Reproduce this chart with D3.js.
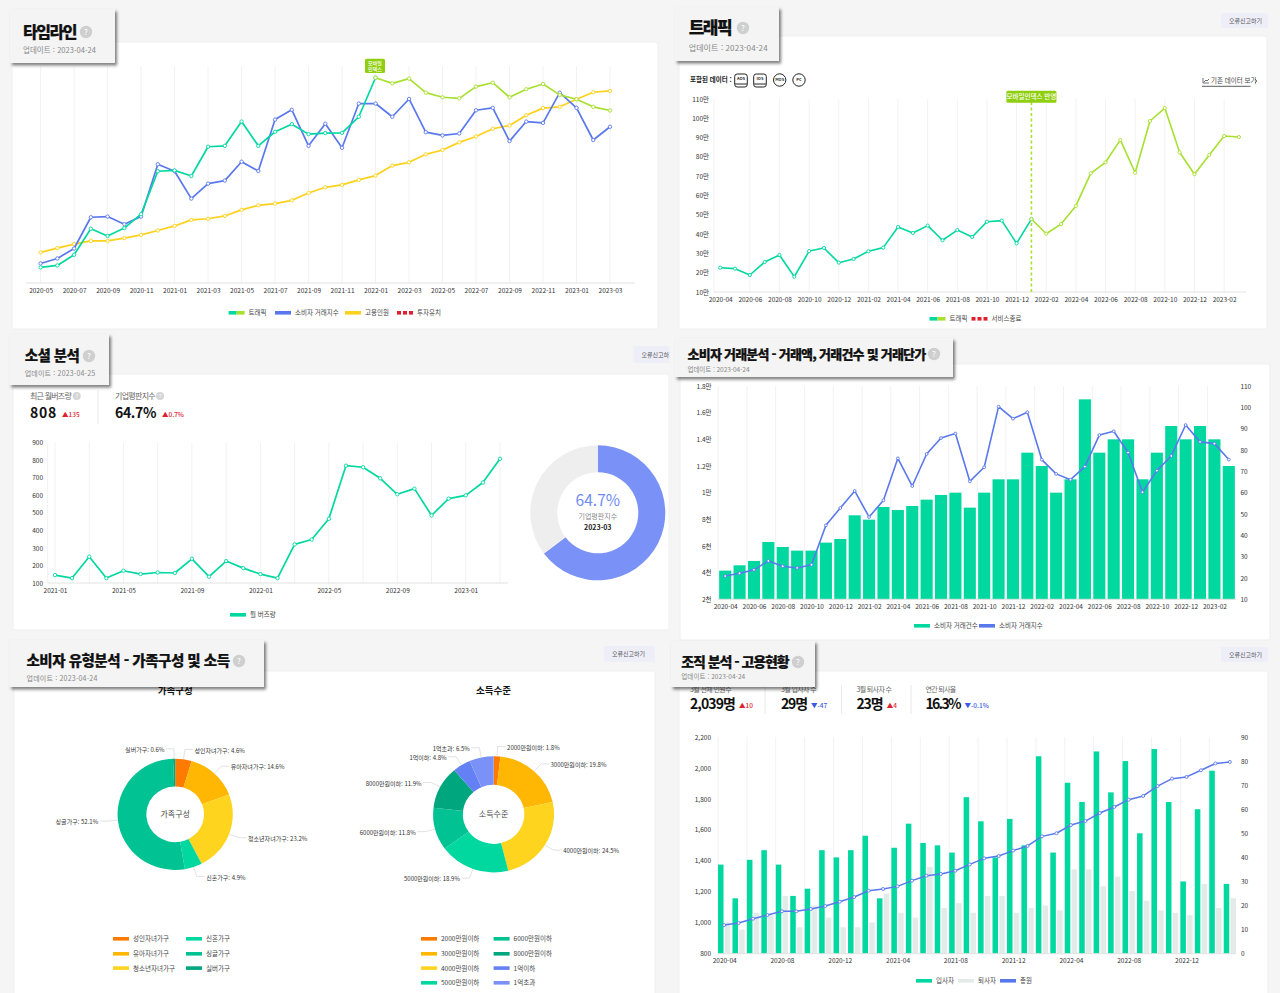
<!DOCTYPE html>
<html lang="ko">
<head>
    <meta charset="UTF-8">
    <title>기업 분석 대시보드</title>
    <script src="https://d3js.org/d3.v7.min.js"></script>
    <style>
        body { margin: 0; background: #f5f5f5; }
        svg { display: block; font-family: "Noto Sans CJK KR", "Noto Sans", sans-serif; fill: #333; }
        .tick text { font-size: 6.5px; font-family: "Noto Sans CJK KR", sans-serif; fill: #333; }
        .grid { stroke: #f2f2f2; stroke-width: 1; }
        .base { stroke: #e2e2e2; stroke-width: 1; }
        .leg { font-size: 6.5px; fill: #444; }
    </style>
</head>
<body>
    <div id="chart"></div>

    <script>
        // Categories
        const months = ["2020-04", "2020-05", "2020-06", "2020-07", "2020-08", "2020-09", "2020-10", "2020-11", "2020-12",
            "2021-01", "2021-02", "2021-03", "2021-04", "2021-05", "2021-06", "2021-07", "2021-08", "2021-09", "2021-10", "2021-11", "2021-12",
            "2022-01", "2022-02", "2022-03", "2022-04", "2022-05", "2022-06", "2022-07", "2022-08", "2022-09", "2022-10", "2022-11", "2022-12",
            "2023-01", "2023-02", "2023-03"];
        const timelineMonths = months.slice(1);
        const socialMonths = months.slice(9);
        const mobileStart = "2022-01";

        // 타임라인 (index, no axis shown)
        const timelineTraffic = [7.2, 8.1, 13.0, 25.0, 21.7, 25.3, 31.7, 51.5, 51.9, 49.3, 62.8, 63.2, 74.4, 63.2, 69.7, 73.2, 68.6, 69.1, 69.2, 76.6, 94.6, 92.0, 94.2, 87.7, 85.6, 85.1, 90.5, 92.3, 85.6, 89.3, 91.7, 86.7, 84.7, 81.2, 79.5];
        const timelineConsumer = [9.0, 11.3, 15.9, 30.3, 30.6, 27.1, 30.6, 54.7, 51.5, 38.9, 45.8, 47.2, 55.9, 51.6, 75.3, 79.8, 63.2, 73.4, 62.3, 82.7, 82.7, 76.6, 84.8, 69.5, 68.0, 68.9, 79.6, 80.7, 65.4, 74.4, 73.8, 87.7, 80.7, 65.9, 72.0];
        const timelineStaff = [14.1, 16.1, 17.9, 19.4, 19.4, 20.7, 22.2, 24.2, 26.3, 29.1, 29.6, 30.9, 33.7, 35.8, 36.6, 38.1, 41.5, 44.1, 45.2, 47.5, 49.5, 54.1, 55.6, 59.3, 61.3, 64.8, 67.5, 71.1, 72.6, 77.3, 80.6, 81.2, 84.7, 87.9, 88.5];

        // 트래픽 (만)
        const trafficValues = [22.6, 22.1, 18.8, 25.5, 29.2, 17.9, 31.2, 32.8, 25.2, 27.1, 31.1, 33.0, 43.7, 40.6, 44.4, 36.8, 42.1, 38.5, 46.4, 47.0, 35.2, 47.8, 40.2, 45.2, 54.6, 71.5, 77.2, 88.8, 71.8, 98.6, 105.3, 82.4, 71.0, 81.0, 90.8, 90.3];
        const trafficTicks = [10, 20, 30, 40, 50, 60, 70, 80, 90, 100, 110];

        // 소셜 분석
        const buzzValues = [145, 128, 250, 128, 170, 151, 160, 157, 238, 136, 225, 185, 151, 128, 320, 348, 466, 769, 760, 697, 606, 638, 485, 581, 600, 673, 808];
        const buzzTicks = [100, 200, 300, 400, 500, 600, 700, 800, 900];
        const reputation = [64.7, 35.3];

        // 소비자 거래분석
        const dealCount = [4150, 4550, 4875, 6300, 5925, 5650, 5650, 6250, 6525, 8300, 7975, 8925, 8700, 9000, 9475, 9825, 10000, 8875, 10000, 11000, 11000, 13000, 12000, 10000, 11000, 17000, 13000, 14000, 14000, 11000, 13000, 15000, 14000, 15000, 14000, 12000];
        const dealIndex = [20.9, 22.2, 23.8, 28.0, 25.5, 24.7, 26.2, 44.7, 52.8, 60.8, 48.6, 56.4, 76.1, 63.1, 78.1, 85.6, 87.7, 65.3, 71.9, 100.3, 94.7, 97.7, 75.5, 68.8, 66.1, 72.2, 87.0, 88.8, 78.8, 60.2, 70.3, 77.2, 91.7, 83.8, 83.0, 75.5];
        const dealLeftTicks = [2000, 4000, 6000, 8000, 10000, 12000, 14000, 16000, 18000];
        const dealLeftLabels = ["2천", "4천", "6천", "8천", "1만", "1.2만", "1.4만", "1.6만", "1.8만"];
        const dealRightTicks = [10, 20, 30, 40, 50, 60, 70, 80, 90, 100, 110];

        // 소비자 유형분석
        const familyNames = ["성인자녀가구", "유아자녀가구", "청소년자녀가구", "신혼가구", "싱글가구", "실버가구"];
        const familyShares = [4.6, 14.6, 23.2, 4.9, 52.1, 0.6];
        const familyColors = ["#ff7a00", "#ffb703", "#ffd41f", "#00d8a0", "#00c292", "#00a67e"];
        const incomeNames = ["2000만원이하", "3000만원이하", "4000만원이하", "5000만원이하", "6000만원이하", "8000만원이하", "1억이하", "1억초과"];
        const incomeShares = [1.8, 19.8, 24.5, 18.9, 11.8, 11.9, 4.8, 6.5];
        const incomeColors = ["#ff7a00", "#ffb703", "#ffd41f", "#00d8a0", "#00c292", "#00a67e", "#6480f5", "#7a92f7"];

        // 조직 분석
        const hires = [37, 23, 39, 43, 37, 24, 27, 43, 40, 43, 49, 23, 44, 54, 46, 45, 42, 65, 55, 40, 56, 45, 82, 42, 71, 63, 84, 67, 80, 50, 85, 63, 30, 60, 76, 29];
        const leavers = [13, 10, 17, 16, 24, 11, 20, 15, 11, 11, 13, 25, 17, 15, 36, 19, 21, 17, 24, 24, 17, 19, 20, 18, 35, 35, 28, 32, 26, 22, 18, 17, 16, 29, 19, 23];
        const headcount = [985, 998, 1026, 1050, 1074, 1074, 1089, 1108, 1136, 1166, 1207, 1218, 1235, 1272, 1304, 1315, 1336, 1377, 1416, 1431, 1466, 1496, 1558, 1578, 1631, 1657, 1709, 1748, 1795, 1819, 1883, 1931, 1942, 1985, 2029, 2039];
        const staffLeftTicks = [800, 1000, 1200, 1400, 1600, 1800, 2000, 2200];
        const staffRightTicks = [0, 10, 20, 30, 40, 50, 60, 70, 80, 90];

        // Colors
        const TEAL = "#00d8a0", LIME = "#a8e030", BLUE = "#5a78ee", YELLOW = "#ffd11a", RED = "#e0202f", TAG = "#8fcf10";

        const svg = d3.select("#chart").append("svg").attr("width", 1280).attr("height", 993);
        svg.append("defs").append("filter").attr("id", "shadow")
            .attr("x", "-5%").attr("y", "-10%").attr("width", "112%").attr("height", "130%")
            .append("feDropShadow").attr("dx", 2).attr("dy", 2.5).attr("stdDeviation", 1.5)
            .attr("flood-color", "#000").attr("flood-opacity", 0.5);

        // ---- shared helpers ----
        function card(x0, y0, x1, y1) {
            svg.append("rect").attr("x", x0).attr("y", y0).attr("width", x1 - x0).attr("height", y1 - y0)
                .attr("rx", 2).attr("fill", "#fff").attr("stroke", "#efefef");
        }

        function reportButton(x0, y0, x1, y1) {
            svg.append("rect").attr("x", x0).attr("y", y0).attr("width", x1 - x0).attr("height", y1 - y0)
                .attr("rx", 2).attr("fill", "#eeeef9");
            svg.append("text").attr("x", x0 + 8).attr("y", (y0 + y1) / 2).attr("dy", "0.35em")
                .attr("font-size", 6).attr("fill", "#555").text("오류신고하기");
        }

        // squeezes a string to a target width by tightening its letter spacing
        function fitSpacing(sel, width) {
            const chars = sel.text().length;
            const natural = sel.node().getComputedTextLength();
            sel.attr("letter-spacing", (width - natural) / chars);
        }

        function titleBox(b) {
            svg.append("rect").attr("x", b.x0).attr("y", b.y0).attr("width", b.x1 - b.x0).attr("height", b.y1 - b.y0)
                .attr("fill", "#f4f4f4").attr("filter", "url(#shadow)");
            svg.append("text").attr("x", b.tx).attr("y", b.ty).attr("dy", "0.36em")
                .attr("font-size", b.size).attr("font-weight", 900).attr("fill", "#111")
                .attr("stroke", "#111").attr("stroke-width", 0.2)
                .text(b.title).call(fitSpacing, b.tw);
            svg.append("circle").attr("cx", b.hx).attr("cy", b.ty).attr("r", 6.2).attr("fill", "#cfcfcf");
            svg.append("text").attr("x", b.hx).attr("y", b.ty).attr("dy", "0.36em").attr("text-anchor", "middle")
                .attr("font-size", 8).attr("fill", "#fff").text("?");
            svg.append("text").attr("x", b.tx).attr("y", b.uy).attr("dy", "0.35em")
                .attr("font-size", b.usize).attr("fill", "#888")
                .text(b.update).call(fitSpacing, b.uw);
        }

        function legendItem(x, y, label, kind) {
            const g = svg.append("g");
            if (kind === "split") {
                g.append("rect").attr("x", x).attr("y", y - 2).attr("width", 8).attr("height", 3.6).attr("fill", TEAL);
                g.append("rect").attr("x", x + 8).attr("y", y - 2).attr("width", 8).attr("height", 3.6).attr("fill", LIME);
            } else if (kind === "dash") {
                [0, 6, 12].forEach(d => g.append("rect").attr("x", x + d).attr("y", y - 2).attr("width", 4).attr("height", 3.6).attr("fill", RED));
            } else {
                g.append("rect").attr("x", x).attr("y", y - 2).attr("width", 16).attr("height", 3.6).attr("fill", kind);
            }
            g.append("text").attr("class", "leg").attr("x", x + 20).attr("y", y).attr("dy", "0.35em").text(label);
        }

        function xAxis(scale, y, values, x0, x1) {
            const g = svg.append("g").attr("transform", `translate(0,${y})`)
                .call(d3.axisBottom(scale).tickValues(values).tickSize(0).tickPadding(5));
            g.select(".domain").remove();
            svg.append("line").attr("class", "base").attr("x1", x0).attr("x2", x1).attr("y1", y).attr("y2", y);
        }

        function yAxis(scale, x, ticks, side, fmt) {
            const axis = (side === "left" ? d3.axisLeft(scale) : d3.axisRight(scale))
                .tickValues(ticks).tickSize(0).tickPadding(0);
            if (fmt) axis.tickFormat(fmt);
            const g = svg.append("g").attr("transform", `translate(${x},0)`).call(axis);
            g.select(".domain").remove();
        }

        function gridLines(xs, y0, y1) {
            svg.append("g").selectAll("line").data(xs).join("line").attr("class", "grid")
                .attr("x1", d => d).attr("x2", d => d).attr("y1", y0).attr("y2", y1);
        }

        function lineSeries(cats, vals, x, y, color, width, r) {
            const pts = cats.map((c, i) => [x(c), y(vals[i])]);
            svg.append("path").attr("d", d3.line()(pts)).attr("fill", "none")
                .attr("stroke", color).attr("stroke-width", width).attr("stroke-linejoin", "round");
            svg.append("g").selectAll("circle").data(pts).join("circle")
                .attr("cx", d => d[0]).attr("cy", d => d[1]).attr("r", r)
                .attr("fill", "#fff").attr("stroke", color).attr("stroke-width", 0.9);
        }

        // line whose colour changes at the mobile index month
        function splitSeries(cats, vals, x, y, width, r) {
            const cut = cats.indexOf(mobileStart);
            lineSeries(cats.slice(0, cut + 1), vals.slice(0, cut + 1), x, y, TEAL, width, r);
            lineSeries(cats.slice(cut), vals.slice(cut), x, y, LIME, width, r);
        }

        function stat(s) {
            svg.append("text").attr("x", s.x).attr("y", s.ly).attr("dy", "0.35em").attr("font-size", s.ls)
                .attr("fill", "#666").text(s.label).call(fitSpacing, s.lw);
            svg.append("text").attr("x", s.x).attr("y", s.vy).attr("dy", "0.36em").attr("font-size", 14)
                .attr("font-weight", 700).attr("fill", "#111").text(s.value).call(fitSpacing, s.vw);
            svg.append("text").attr("x", s.dx).attr("y", s.vy + 2).attr("dy", "0.35em").attr("font-size", 6.5)
                .attr("font-weight", 500).attr("fill", s.delta[0] === "▲" ? RED : "#3a5be0").text(s.delta);
        }

        function divider(x, y0, y1) {
            svg.append("line").attr("x1", x).attr("x2", x).attr("y1", y0).attr("y2", y1).attr("stroke", "#e8e8e8");
        }

        function tag(x0, x1, y0, y1, lines, size) {
            svg.append("rect").attr("x", x0).attr("y", y0).attr("width", x1 - x0).attr("height", y1 - y0)
                .attr("rx", 1.5).attr("fill", TAG);
            const cy = (y0 + y1) / 2, step = size + 1;
            lines.forEach((t, i) => svg.append("text").attr("x", (x0 + x1) / 2)
                .attr("y", cy + (i - (lines.length - 1) / 2) * step).attr("dy", "0.35em")
                .attr("text-anchor", "middle").attr("font-size", size).attr("font-weight", 500).attr("fill", "#fff").text(t));
        }

        // ---- 타임라인 ----
        card(12, 42, 658, 329);
        {
            const x = d3.scalePoint().domain(timelineMonths).range([40.6, 610]);
            const y = d3.scaleLinear().domain([0, 100]).range([283, 66]);
            const ticks = timelineMonths.filter((d, i) => i % 2 === 0);
            gridLines(ticks.map(x), 66, 283);
            xAxis(x, 283, ticks, 26, 635);
            lineSeries(timelineMonths, timelineStaff, x, y, YELLOW, 1.7, 1.7);
            lineSeries(timelineMonths, timelineConsumer, x, y, BLUE, 1.7, 1.7);
            splitSeries(timelineMonths, timelineTraffic, x, y, 1.7, 1.7);
            tag(365, 385, 58.7, 73, ["모바일", "인덱스"], 5);
            legendItem(228.6, 313, "트래픽", "split");
            legendItem(275, 313, "소비자 거래지수", BLUE);
            legendItem(345, 313, "고용인원", YELLOW);
            legendItem(397, 313, "투자유치", "dash");
        }

        // ---- 트래픽 ----
        card(679, 36, 1267, 329);
        reportButton(1221, 13, 1268, 28);
        {
            const x = d3.scalePoint().domain(months).range([720.2, 1238.9]);
            const y = d3.scaleLinear().domain([10, 110]).range([292, 99]);
            const ticks = months.filter((d, i) => i % 2 === 0);
            gridLines([714].concat(ticks.slice(1).map(x)), 99, 292);
            xAxis(x, 292, ticks, 714, 1246);
            yAxis(y, 709, trafficTicks, "left", d => d + "만");
            svg.append("line").attr("x1", x(mobileStart)).attr("x2", x(mobileStart)).attr("y1", 102).attr("y2", 292)
                .attr("stroke", LIME).attr("stroke-width", 1.6).attr("stroke-dasharray", "3 2.5");
            splitSeries(months, trafficValues, x, y, 1.6, 1.6);
            tag(x(mobileStart) - 25, x(mobileStart) + 25, 90.7, 102.7, ["모바일인덱스 반영"], 6.5);
            legendItem(929.5, 319, "트래픽", "split");
            legendItem(971.5, 319, "서비스종료", "dash");

            svg.append("text").attr("x", 690).attr("y", 80).attr("dy", "0.35em").attr("font-size", 6.5)
                .attr("font-weight", 700).attr("fill", "#222").text("포함된 데이터 :");
            [["AOS", 741], ["IOS", 760]].forEach(([t, cx]) => {
                svg.append("rect").attr("x", cx - 6.3).attr("y", 74).attr("width", 12.6).attr("height", 13).attr("rx", 2.5)
                    .attr("fill", "#fff").attr("stroke", "#222");
                svg.append("line").attr("x1", cx - 6).attr("x2", cx + 6).attr("y1", 84).attr("y2", 84).attr("stroke", "#222");
                svg.append("text").attr("x", cx).attr("y", 79).attr("dy", "0.35em").attr("text-anchor", "middle")
                    .attr("font-size", 4).attr("font-weight", 700).attr("fill", "#222").text(t);
            });
            [["MOS", 779.7], ["PC", 799]].forEach(([t, cx]) => {
                svg.append("circle").attr("cx", cx).attr("cy", 80).attr("r", 6.2).attr("fill", "#fff").attr("stroke", "#222");
                svg.append("text").attr("x", cx).attr("y", 80).attr("dy", "0.35em").attr("text-anchor", "middle")
                    .attr("font-size", 4).attr("font-weight", 700).attr("fill", "#222").text(t);
            });
            svg.append("path").attr("d", "M1203 78v5h6M1204 82l2-2 1 1 2-2").attr("fill", "none").attr("stroke", "#333").attr("stroke-width", 0.7);
            svg.append("text").attr("x", 1211).attr("y", 81).attr("dy", "0.35em").attr("font-size", 6.5).attr("fill", "#444").text("기존 데이터 보기");
            svg.append("path").attr("d", "M1255 79l2 2-2 2").attr("fill", "none").attr("stroke", "#444").attr("stroke-width", 0.7);
            svg.append("line").attr("x1", 1202).attr("x2", 1250.5).attr("y1", 86.3).attr("y2", 86.3).attr("stroke", "#333").attr("stroke-width", 0.8);
        }

        // ---- 소셜 분석 ----
        card(13, 374, 669, 630);
        reportButton(633.5, 346, 680, 363);
        {
            const x = d3.scalePoint().domain(socialMonths).range([55, 500]);
            const y = d3.scaleLinear().domain([100, 900]).range([583, 442.7]);
            const every2 = socialMonths.filter((d, i) => i % 2 === 0);
            gridLines([47.7].concat(every2.map(x)), 442.7, 583);
            xAxis(x, 583, socialMonths.filter((d, i) => i % 4 === 0), 47.7, 508);
            yAxis(y, 43, buzzTicks, "left");
            lineSeries(socialMonths, buzzValues, x, y, TEAL, 1.7, 1.7);
            legendItem(230, 615, "월 버즈량", TEAL);

            stat({ x: 30, ly: 396, ls: 8, lw: 41, label: "최근 월버즈량", vy: 413, vw: 27, value: "808", dx: 62, delta: "▲135" });
            stat({ x: 115, ly: 396, ls: 8, lw: 40, label: "기업평판지수", vy: 413, vw: 41, value: "64.7%", dx: 162, delta: "▲0.7%" });
            divider(98, 390, 424);
            [[76.7, 396], [160, 396]].forEach(([cx, cy]) => {
                svg.append("circle").attr("cx", cx).attr("cy", cy).attr("r", 4).attr("fill", "#d5d5d5");
                svg.append("text").attr("x", cx).attr("y", cy).attr("dy", "0.35em").attr("text-anchor", "middle")
                    .attr("font-size", 5.5).attr("fill", "#fff").text("?");
            });

            const g = svg.append("g").attr("transform", "translate(597.8,512.8)");
            const arc = d3.arc().innerRadius(40.5).outerRadius(67.5);
            g.selectAll("path").data(d3.pie().sort(null)(reputation)).join("path")
                .attr("d", arc).attr("fill", (d, i) => i === 0 ? "#7a92f7" : "#eeeeee");
            g.append("text").attr("y", -12).attr("dy", "0.35em").attr("text-anchor", "middle").attr("font-size", 15.5).attr("fill", "#6e8bf5").text("64.7%");
            g.append("text").attr("y", 4).attr("dy", "0.35em").attr("text-anchor", "middle").attr("font-size", 7).attr("fill", "#888").text("기업평판지수");
            g.append("text").attr("y", 15).attr("dy", "0.35em").attr("text-anchor", "middle").attr("font-size", 7).attr("font-weight", 700).attr("fill", "#222").text("2023-03");
        }

        // clip the social panel's button at the column edge
        svg.append("rect").attr("x", 669.5).attr("y", 340).attr("width", 12).attr("height", 300).attr("fill", "#f5f5f5");

        // ---- 소비자 거래분석 ----
        card(680, 364, 1270, 640);
        {
            const x = d3.scaleBand().domain(months).range([718, 1236]).paddingInner(0.16).paddingOuter(0.08);
            const yl = d3.scaleLinear().domain([2000, 18000]).range([599.3, 386]);
            const yr = d3.scaleLinear().domain([10, 110]).range([599.3, 386]);
            const cx = d => x(d) + x.bandwidth() / 2;
            gridLines(months.filter((d, i) => i % 2 === 0).map(d => x(d) - 1), 386, 599.3);
            svg.append("g").selectAll("rect").data(months).join("rect")
                .attr("x", d => x(d)).attr("width", x.bandwidth())
                .attr("y", (d, i) => yl(dealCount[i])).attr("height", (d, i) => yl(2000) - yl(dealCount[i]))
                .attr("fill", TEAL);
            const px = d3.scalePoint().domain(months).range([cx(months[0]), cx(months[35])]);
            xAxis(px, 599.3, months.filter((d, i) => i % 2 === 0), 718, 1236);
            yAxis(yl, 711.6, dealLeftTicks, "left", d => dealLeftLabels[dealLeftTicks.indexOf(d)]);
            yAxis(yr, 1240.4, dealRightTicks, "right");
            lineSeries(months, dealIndex, px, yr, BLUE, 1.6, 1.4);
            legendItem(914, 626, "소비자 거래건수", TEAL);
            legendItem(979, 626, "소비자 거래지수", BLUE);
        }

        // ---- 소비자 유형분석 ----
        card(14, 671, 655, 1000);
        reportButton(604, 646, 655, 662);

        function donut(names, shares, colors, cx, cy, rOuter, rInner, sx, sy, center, title) {
            const pie = d3.pie().sort(null)(shares);
            const g = svg.append("g").attr("transform", `translate(${cx},${cy}) scale(${sx},${sy})`);
            const arc = d3.arc().innerRadius(rInner).outerRadius(rOuter);
            g.selectAll("path").data(pie).join("path").attr("d", arc).attr("fill", (d, i) => colors[i]);
            const outerArc = d3.arc().innerRadius(rOuter).outerRadius(rOuter);
            const elbowArc = d3.arc().innerRadius(rOuter + 10).outerRadius(rOuter + 10);
            pie.forEach((d, i) => {
                const a = outerArc.centroid(d), b = elbowArc.centroid(d);
                const right = (d.startAngle + d.endAngle) / 2 < Math.PI;
                const ax = a[0] * sx + cx, ay = a[1] * sy + cy, bx = b[0] * sx + cx, by = b[1] * sy + cy;
                const ex = bx + (right ? 8 : -8);
                svg.append("path").attr("d", d3.line()([[ax, ay], [bx, by], [ex, by]]))
                    .attr("fill", "none").attr("stroke", "#d5d5d5").attr("stroke-width", 0.7);
                svg.append("text").attr("x", ex + (right ? 1.5 : -1.5)).attr("y", by + 1).attr("dy", "0.35em")
                    .attr("text-anchor", right ? "start" : "end").attr("font-size", 6).attr("fill", "#333")
                    .text(`${names[i]}: ${shares[i]}%`);
            });
            svg.append("text").attr("x", cx).attr("y", cy).attr("dy", "0.35em").attr("text-anchor", "middle")
                .attr("font-size", 8).attr("fill", "#444").text(center);
            svg.append("text").attr("x", cx).attr("y", 691).attr("dy", "0.35em").attr("text-anchor", "middle")
                .attr("font-size", 9.5).attr("font-weight", 700).attr("fill", "#111").text(title);
        }

        donut(familyNames, familyShares, familyColors, 175.2, 814.3, 56.5, 28.3, 1.02, 0.985, "가족구성", "가족구성");
        donut(incomeNames, incomeShares, incomeColors, 493.6, 814.3, 59, 30, 1.025, 0.985, "소득수준", "소득수준");

        const legendRows = [939, 954, 968.3, 983];
        familyNames.forEach((n, i) => {
            const col = i < 3 ? 113 : 186;
            legendItem(col, legendRows[i % 3], n, familyColors[i]);
        });
        incomeNames.forEach((n, i) => {
            const col = i < 4 ? 421 : 493.6;
            legendItem(col, legendRows[i % 4], n, incomeColors[i]);
        });

        // ---- 조직 분석 ----
        card(679, 671, 1268, 1000);
        reportButton(1221, 647, 1268, 662);
        {
            const x = d3.scaleBand().domain(months).range([718, 1236]).paddingInner(0.15);
            const x1 = d3.scaleBand().domain(["hire", "leave"]).range([0, x.bandwidth()]).paddingInner(0.18);
            const yl = d3.scaleLinear().domain([800, 2200]).range([953.7, 737]);
            const yr = d3.scaleLinear().domain([0, 90]).range([953.7, 737]);
            gridLines(months.filter((d, i) => i % 2 === 0).map(d => x(d)), 737, 953.7);
            const bars = (vals, key, color) => svg.append("g").selectAll("rect").data(months).join("rect")
                .attr("x", d => x(d) + x1(key)).attr("width", x1.bandwidth())
                .attr("y", (d, i) => yr(vals[i])).attr("height", (d, i) => yr(0) - yr(vals[i]))
                .attr("fill", color);
            bars(leavers, "leave", "#e2ebe7");
            bars(hires, "hire", TEAL);
            const px = d3.scalePoint().domain(months).range([x(months[0]) + x.bandwidth() / 2, x(months[35]) + x.bandwidth() / 2]);
            xAxis(px, 953.7, months.filter((d, i) => i % 4 === 0), 718, 1236);
            yAxis(yl, 711, staffLeftTicks, "left", d3.format(","));
            yAxis(yr, 1241, staffRightTicks, "right");
            lineSeries(months, headcount, px, yl, BLUE, 1.5, 1.5);
            legendItem(916, 981, "입사자", TEAL);
            legendItem(958, 981, "퇴사자", "#e2ebe7");
            legendItem(1000, 981, "총원", BLUE);

            stat({ x: 690, ly: 689.7, ls: 7, lw: 41, label: "3월 전체 인원수", vy: 704, vw: 45, value: "2,039명", dx: 739, delta: "▲10" });
            stat({ x: 781, ly: 689.7, ls: 7, lw: 35, label: "3월 입사자 수", vy: 704, vw: 26, value: "29명", dx: 811, delta: "▼-47" });
            stat({ x: 856.4, ly: 689.7, ls: 7, lw: 35, label: "3월 퇴사자 수", vy: 704, vw: 26, value: "23명", dx: 886.7, delta: "▲4" });
            stat({ x: 925.6, ly: 689.7, ls: 7, lw: 30, label: "연간 퇴사율", vy: 704, vw: 34, value: "16.3%", dx: 964.5, delta: "▼-0.1%" });
            divider(765, 685, 714);
            divider(841.6, 685, 714);
            divider(911, 685, 714);
        }

        // Title plates sit on top of everything
        const titles = [
            { title: "타임라인", update: "업데이트 : 2023-04-24", x0: 10, x1: 115, y0: 9, y1: 63, tx: 23, tw: 53, ty: 32, size: 16, hx: 86, uy: 50, uw: 73, usize: 7.5 },
            { title: "트래픽", update: "업데이트 : 2023-04-24", x0: 675, x1: 779, y0: 7, y1: 61, tx: 688.7, tw: 42.5, ty: 28, size: 17, hx: 743, uy: 48, uw: 79, usize: 8 },
            { title: "소셜 분석", update: "업데이트 : 2023-04-25", x0: 9.5, x1: 109, y0: 334, y1: 385, tx: 24.7, tw: 54.7, ty: 356, size: 14.5, hx: 89, uy: 374, uw: 70.7, usize: 7 },
            { title: "소비자 거래분석 - 거래액, 거래건수 및 거래단가", update: "업데이트 : 2023-04-24", x0: 675, x1: 953, y0: 338, y1: 377, tx: 687.5, tw: 238, ty: 354, size: 13, hx: 934, uy: 370, uw: 62, usize: 6.5 },
            { title: "소비자 유형분석 - 가족구성 및 소득", update: "업데이트 : 2023-04-24", x0: 9.4, x1: 264, y0: 640, y1: 687, tx: 26.5, tw: 203, ty: 661, size: 14.5, hx: 239, uy: 679, uw: 71, usize: 7 },
            { title: "조직 분석 - 고용현황", update: "업데이트 : 2023-04-24", x0: 671, x1: 815, y0: 641, y1: 687, tx: 681.3, tw: 107.4, ty: 662, size: 14, hx: 798, uy: 677, uw: 64, usize: 6.5 }
        ];
        titles.forEach(titleBox);
    </script>
</body>
</html>
